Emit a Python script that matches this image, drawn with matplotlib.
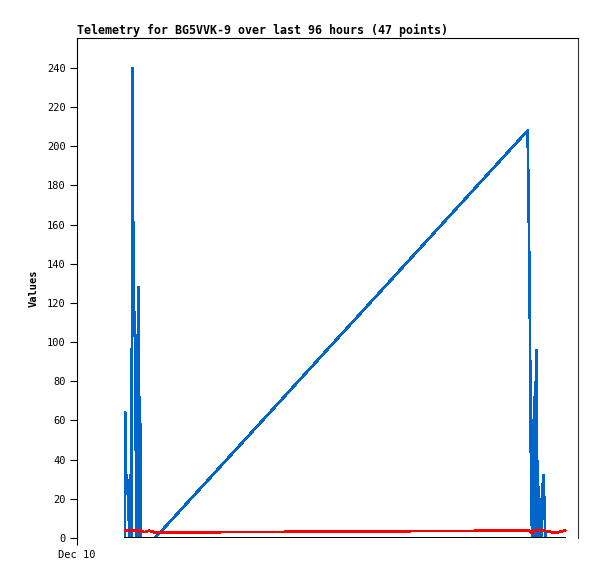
import matplotlib
matplotlib.use("Agg")
import matplotlib.pyplot as plt

# time in hours since Dec 10 00:00
times = [10.47, 10.54, 10.65, 10.87, 11.00, 11.13, 11.26, 11.39, 11.56, 11.74,
         11.89, 12.07, 12.35, 12.55, 12.76, 12.92, 13.09, 13.38, 13.57, 13.75,
         13.92, 14.84, 15.71, 17.02,
         98.30, 98.47, 98.73, 98.91, 99.06, 99.28, 99.50, 99.72, 99.85, 100.04,
         100.22, 100.37, 100.50, 100.70, 100.87, 101.13, 101.35, 101.57, 101.75,
         101.94, 102.18, 104.30, 106.48]

blue_values = [0, 64, 32, 32, 28, 20, 14, 0, 32, 20,
               0, 240, 121, 112, 84, 0, 64, 128, 0, 72,
               0, 0, 0, 0,
               208, 182, 130, 78, 26, 0, 26, 72, 0, 72,
               96, 48, 0, 26, 0, 20, 0, 26, 32,
               20, 0, 0, 0]

red_values = [3.8, 3.8, 3.8, 3.8, 3.8, 3.8, 3.8, 3.8, 3.8, 3.8,
              3.8, 3.8, 3.8, 3.8, 3.8, 3.5, 3.5, 3.8, 3.0, 3.8,
              3.5, 3.0, 3.8, 2.8,
              3.8, 3.8, 3.6, 3.4, 3.0, 2.6, 3.0, 3.7, 3.7, 3.7,
              3.7, 3.7, 3.7, 3.7, 3.7, 3.7, 3.7, 3.7, 3.7,
              3.7, 3.7, 2.6, 3.9]

black_values = [0] * len(times)

y_ticks = list(range(0, 241, 20))
x_tick_labels = ["Dec 10"]
title = "Telemetry for BG5VVK-9 over last 96 hours (47 points)"

mono = ["DejaVu Sans Mono"]

fig = plt.figure(figsize=(5.97, 5.79), dpi=100)
ax = fig.add_axes([77 / 597, 41 / 579, 501 / 597, 500 / 579])

ax.plot(times, blue_values, color="#0066cc", lw=1.2, antialiased=False)
ax.plot(times, red_values, color="#ff0000", lw=1.2, antialiased=False)
ax.plot(times, black_values, color="#000000", lw=1.2, antialiased=False)

ax.set_xlim(0, 109.3)
ax.set_ylim(0, 255.3)

ax.set_yticks(y_ticks)
ax.set_yticklabels([str(v) for v in y_ticks], family=mono, fontsize=7.5)
ax.set_xticks([0])
ax.set_xticklabels(x_tick_labels, family=mono, fontsize=7.5)
ax.tick_params(axis="both", direction="out", length=5, width=0.8, pad=3)
ax.tick_params(axis="x", pad=4)

ax.spines["bottom"].set_visible(False)
for s in ["left", "right", "top"]:
    ax.spines[s].set_linewidth(0.8)
ax.spines["right"].set_color("#333333")

ax.set_ylabel("Values", family=mono, fontsize=7.5, fontweight="bold", labelpad=6)
ax.set_title(title, loc="left", family=mono, fontsize=8.4, fontweight="bold", pad=3)

fig.savefig("out.png", dpi=100)
